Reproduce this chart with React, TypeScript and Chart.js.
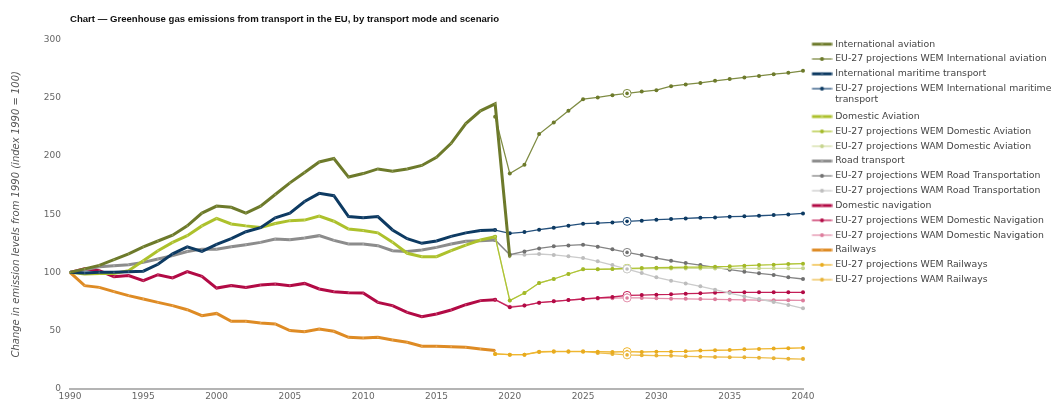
import React, { useEffect, useRef } from 'react';
import { Chart, registerables } from 'chart.js';

Chart.register(...registerables);

// ---------- categories ----------
const years = [
  1990, 1991, 1992, 1993, 1994, 1995, 1996, 1997, 1998, 1999,
  2000, 2001, 2002, 2003, 2004, 2005, 2006, 2007, 2008, 2009,
  2010, 2011, 2012, 2013, 2014, 2015, 2016, 2017, 2018, 2019,
  2020, 2021, 2022, 2023, 2024, 2025, 2026, 2027, 2028, 2029,
  2030, 2031, 2032, 2033, 2034, 2035, 2036, 2037, 2038, 2039, 2040,
];
const projectionStartYear = 2019;
const highlightYear = 2028;

// ---------- historical series (from 1990) ----------
const internationalAviation = [100, 103, 106, 111, 116, 122, 127, 132, 140, 151, 157, 156, 151, 157, 167, 177, 186, 195, 198, 182, 185, 189, 187, 189, 192, 199, 211, 228, 239, 245, 113];
const internationalMaritime = [100, 99.5, 100, 100, 100.5, 101, 107, 116, 122, 118, 124, 129, 135, 138.5, 147, 151, 161, 168, 166, 148, 147, 148, 136.5, 129, 125, 127, 131, 134, 136, 136.4];
const domesticAviation = [100, 98.6, 99, 99, 101.5, 110, 118.6, 125.8, 131.6, 140, 146.5, 141.6, 140, 138.7, 142, 144.5, 145, 148.5, 144, 137.3, 136, 134, 126, 116.4, 113.5, 113.5, 118.7, 123.5, 127.8, 130.7];
const roadTransport = [100, 102.3, 104.9, 105.8, 106.6, 108.6, 111.5, 114.4, 118, 120, 120, 122, 123.8, 125.8, 128.7, 128, 129.6, 131.6, 127.5, 124.5, 124.4, 123, 118.7, 118, 119.2, 121.5, 124.4, 126.7, 127.3, 127.8];
const domesticNavigation = [100, 103, 101.5, 96.3, 97.2, 92.9, 98, 95.2, 100.6, 96.6, 86.5, 88.6, 87.1, 89.1, 90, 88.6, 90.5, 85.7, 83.4, 82.5, 82.2, 74.2, 71.4, 65.6, 61.9, 64.2, 67.6, 72.2, 75.7, 76.5];
const railways = [100, 88.6, 87.1, 83.4, 80, 77.1, 74.2, 71.4, 67.9, 62.8, 64.7, 57.9, 57.9, 56.5, 55.6, 49.9, 49, 51.3, 49.3, 44.1, 43.6, 44.1, 41.9, 39.8, 36.4, 36.4, 36.1, 35.5, 34.1, 32.7];

// ---------- projections (from 2019 to 2040) ----------
const wemInternationalAviation = [234, 185, 192.6, 219, 229, 239, 249, 250.5, 252.5, 254, 255.6, 256.8, 260.2, 261.7, 263, 264.8, 266.3, 267.7, 269, 270.5, 271.7, 273.4];
const wemInternationalMaritime = [136.4, 133.6, 134.7, 136.7, 138.4, 140.2, 141.9, 142.4, 143, 143.9, 144.5, 145.3, 145.9, 146.4, 147, 147.3, 147.9, 148.2, 148.7, 149.3, 149.9, 150.7];
const wemDomesticAviation = [130.7, 75.7, 82.2, 90.8, 94.3, 98.6, 102.6, 102.6, 102.9, 103.5, 103.7, 104, 104.2, 104.5, 104.6, 104.9, 105.2, 105.8, 106.3, 106.6, 107.2, 107.5];
const wamDomesticAviation = [130.7, 75.7, 82.2, 90.8, 94.3, 98.6, 102.6, 102.7, 102.9, 103.1, 103.2, 103.3, 103.3, 103.4, 103.4, 103.4, 103.5, 103.5, 103.5, 103.5, 103.5, 103.5];
const wemRoad = [127.8, 115.2, 118, 120.6, 122.4, 123.2, 123.8, 122.1, 119.8, 117.2, 114.9, 112.3, 110, 108, 106.3, 104.3, 102.3, 100.6, 99.2, 97.8, 95.7, 94.3];
const wamRoad = [127.8, 115.2, 115.2, 115.8, 115, 113.8, 112.3, 109.5, 106.3, 102.9, 99.4, 95.7, 92.9, 90.5, 88, 85.1, 82.2, 79.4, 77.1, 74.5, 72, 69.1];
const wemDomesticNavigation = [76.5, 69.9, 71.4, 73.9, 75.1, 76.2, 77.1, 78, 78.8, 80.2, 80.5, 80.8, 81.1, 81.7, 82, 82.5, 82.8, 82.8, 82.8, 82.8, 82.8, 82.8];
const wamDomesticNavigation = [76.5, 70.5, 71.4, 73.9, 75.1, 76.2, 77.1, 77.6, 77.8, 78, 78, 77.7, 77.4, 77.2, 77, 76.8, 76.5, 76.3, 76.2, 76, 76, 75.9];
const wemRailways = [29.8, 29.2, 29.2, 31.5, 31.8, 31.8, 31.8, 31.8, 31.5, 31.8, 31.5, 31.8, 31.8, 32.1, 32.7, 33, 33.2, 33.8, 34.1, 34.4, 34.7, 35];
const wamRailways = [29.8, 29.2, 29.2, 31.8, 32.1, 32.1, 32.1, 30.7, 29.8, 29, 28.7, 28.4, 28.3, 27.8, 27.5, 27.2, 27, 26.9, 26.6, 26.2, 25.7, 25.4];

// ---------- y ticks ----------
const yMin = 0;
const yMax = 300;
const yStep = 50;

const FONT = '"DejaVu Sans", Verdana, sans-serif';

// align a series that starts at a given year with the category list
const fromYear = (start: number, vals: number[]) => [
  ...new Array(years.indexOf(start)).fill(null),
  ...vals,
];

type SeriesDef = {
  label: string;
  data: (number | null)[];
  color: string;
  dot: string;
  projection: boolean;
};

const series: SeriesDef[] = [
  { label: 'International aviation', data: internationalAviation, color: '#6d7a2b', dot: '#8e9a52', projection: false },
  { label: 'EU-27 projections WEM International aviation', data: fromYear(projectionStartYear, wemInternationalAviation), color: '#7f8c44', dot: '#6d7a2b', projection: true },
  { label: 'International maritime transport', data: internationalMaritime, color: '#0d3a62', dot: '#3a5d80', projection: false },
  { label: 'EU-27 projections WEM International maritime transport', data: fromYear(projectionStartYear, wemInternationalMaritime), color: '#24507c', dot: '#0d3a62', projection: true },
  { label: 'Domestic Aviation', data: domesticAviation, color: '#adc12c', dot: '#c2d264', projection: false },
  { label: 'EU-27 projections WEM Domestic Aviation', data: fromYear(projectionStartYear, wemDomesticAviation), color: '#afc432', dot: '#a3b928', projection: true },
  { label: 'EU-27 projections WAM Domestic Aviation', data: fromYear(projectionStartYear, wamDomesticAviation), color: '#d2dea4', dot: '#c5d48c', projection: true },
  { label: 'Road transport', data: roadTransport, color: '#8c8c8c', dot: '#a8a8a8', projection: false },
  { label: 'EU-27 projections WEM Road Transportation', data: fromYear(projectionStartYear, wemRoad), color: '#848484', dot: '#707070', projection: true },
  { label: 'EU-27 projections WAM Road Transportation', data: fromYear(projectionStartYear, wamRoad), color: '#cbcbcb', dot: '#bdbdbd', projection: true },
  { label: 'Domestic navigation', data: domesticNavigation, color: '#b20a45', dot: '#c8476f', projection: false },
  { label: 'EU-27 projections WEM Domestic Navigation', data: fromYear(projectionStartYear, wemDomesticNavigation), color: '#c41e57', dot: '#b20a45', projection: true },
  { label: 'EU-27 projections WAM Domestic Navigation', data: fromYear(projectionStartYear, wamDomesticNavigation), color: '#e48fab', dot: '#dd7b9b', projection: true },
  { label: 'Railways', data: railways, color: '#de8b24', dot: '#e9a757', projection: false },
  { label: 'EU-27 projections WEM Railways', data: fromYear(projectionStartYear, wemRailways), color: '#efb630', dot: '#e8ab1e', projection: true },
  { label: 'EU-27 projections WAM Railways', data: fromYear(projectionStartYear, wamRailways), color: '#eebf4e', dot: '#e8b235', projection: true },
];

const wrappedLegend: Record<string, string[]> = {
  'EU-27 projections WEM International maritime transport': ['EU-27 projections WEM International maritime', 'transport'],
};

function makeMarker(color: string, width: number, dot: string, r: number) {
  const c = document.createElement('canvas');
  c.width = 26;
  c.height = 8;
  const g = c.getContext('2d')!;
  g.strokeStyle = color;
  g.lineWidth = width;
  g.beginPath();
  g.moveTo(5.5, 4);
  g.lineTo(25.5, 4);
  g.stroke();
  g.fillStyle = dot;
  g.beginPath();
  g.arc(15.5, 4, r, 0, Math.PI * 2);
  g.fill();
  return c;
}

const ringPlugin = {
  id: 'highlightRings',
  afterDatasetsDraw(chart: any) {
    const idx = years.indexOf(highlightYear);
    const ctx = chart.ctx;
    chart.data.datasets.forEach((ds: any, i: number) => {
      if (!ds.isProjection) return;
      const pt = chart.getDatasetMeta(i).data[idx];
      if (!pt) return;
      ctx.save();
      ctx.beginPath();
      ctx.arc(pt.x, pt.y, 4, 0, Math.PI * 2);
      ctx.fillStyle = '#ffffff';
      ctx.fill();
      ctx.lineWidth = 1;
      ctx.strokeStyle = ds.borderColor;
      ctx.stroke();
      ctx.beginPath();
      ctx.arc(pt.x, pt.y, 1.8, 0, Math.PI * 2);
      ctx.fillStyle = ds.pointBackgroundColor;
      ctx.fill();
      ctx.restore();
    });
  },
};

export default function App() {
  const ref = useRef<HTMLCanvasElement | null>(null);

  useEffect(() => {
    document.body.style.margin = '0';
    const canvas = ref.current;
    if (!canvas) return;

    const markers = series.map((s) =>
      s.projection ? makeMarker(s.color, 1.3, s.dot, 2) : makeMarker(s.color, 3, s.dot, 1.3)
    );

    const chart = new Chart(canvas, {
      type: 'line',
      data: {
        labels: years,
        datasets: series.map((s) => ({
          label: s.label,
          data: s.data,
          borderColor: s.color,
          backgroundColor: s.color,
          borderWidth: s.projection ? 1.3 : 3,
          pointRadius: s.projection ? 2 : 0.9,
          pointBorderWidth: 0,
          pointBackgroundColor: s.dot,
          pointHoverRadius: 0,
          tension: 0,
          fill: false,
          spanGaps: false,
          isProjection: s.projection,
        })) as any,
      },
      options: {
        animation: false,
        responsive: false,
        events: [],
        layout: { padding: { left: 6.6, top: 0, right: 0, bottom: -2.8 } },
        plugins: {
          tooltip: { enabled: false },
          title: {
            display: true,
            text: 'Chart — Greenhouse gas emissions from transport in the EU, by transport mode and scenario',
            align: 'start',
            fullSize: false,
            color: '#111111',
            font: { family: '"Liberation Sans", Arial, sans-serif', size: 9.6, weight: 'bold' },
            padding: { top: 14, bottom: 14.4 },
          },
          legend: {
            display: true,
            position: 'right',
            align: 'start',
            fullSize: true,
            maxWidth: 249,
            title: { display: true, text: '', font: { size: 10 }, padding: { top: 0, bottom: 22 } },
            labels: {
              usePointStyle: true,
              pointStyleWidth: 22,
              padding: 5.5,
              color: '#444444',
              font: { family: FONT, size: 9.33 },
              generateLabels: (ch: any) => {
                const items = Chart.defaults.plugins.legend.labels.generateLabels(ch);
                return items.map((it: any, i: number) => ({
                  ...it,
                  pointStyle: markers[i],
                  text: wrappedLegend[it.text] || it.text,
                }));
              },
            },
          },
        },
        scales: {
          x: {
            type: 'category',
            offset: false,
            grid: { display: false, drawTicks: false },
            border: { display: true, color: '#b4b4b4', width: 2 },
            ticks: {
              autoSkip: false,
              maxRotation: 0,
              padding: 3,
              color: '#666666',
              font: { family: FONT, size: 9 },
              callback: (_v: any, i: number) => (years[i] % 5 === 0 ? String(years[i]) : ''),
            },
          },
          y: {
            min: yMin,
            max: yMax,
            grid: { display: false, drawTicks: false },
            border: { display: false },
            ticks: {
              stepSize: yStep,
              padding: 9,
              color: '#666666',
              font: { family: FONT, size: 9 },
            },
            title: {
              display: true,
              text: 'Change in emission levels from 1990 (index 1990 = 100)',
              color: '#555555',
              font: { family: FONT, size: 10, style: 'italic' },
              padding: { top: 4, bottom: 12.2 },
            },
          },
        },
      },
      plugins: [ringPlugin],
    });

    return () => chart.destroy();
  }, []);

  return (
    <div style={{ width: 1052, height: 403 }}>
      <canvas ref={ref} width={1052} height={403} style={{ display: 'block' }} />
    </div>
  );
}
